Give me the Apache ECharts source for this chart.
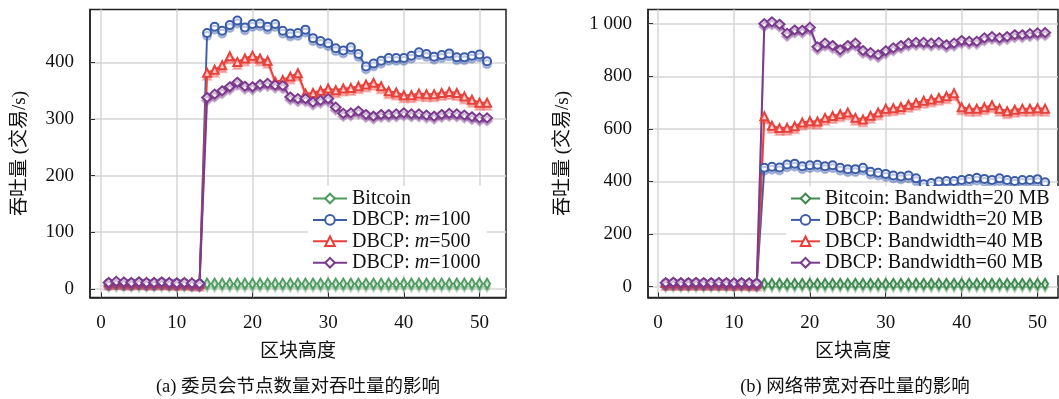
<!DOCTYPE html>
<html>
<head>
<meta charset="utf-8">
<script src="https://cdn.jsdelivr.net/npm/echarts@6/dist/echarts.min.js"></script>
<style>
  html, body { margin: 0; padding: 0; background: #fff; }
  #chart { width: 1059px; height: 399px; }
</style>
</head>
<body>
<div id="chart"></div>
<script>
// Block heights on the x axis
const blockHeight = [1,2,3,4,5,6,7,8,9,10,11,12,13,14,15,16,17,18,19,20,21,22,23,24,25,26,
  27,28,29,30,31,32,33,34,35,36,37,38,39,40,41,42,43,44,45,46,47,48,49,50,51];

// Tick labels
const xTicks = [0, 10, 20, 30, 40, 50];
const yTicksA = [0, 100, 200, 300, 400];
const yTicksB = [0, 200, 400, 600, 800, 1000];

// (a) committee size — throughput (tx/s)
const bitcoinA = [9,9,9,9,9,9,9,9,9,9,9,9,9,9,9,9,9,9,9,9,9,9,9,9,9,9,
  9,9,9,9,9,9,9,9,9,9,9,9,9,9,9,9,9,9,9,9,9,9,9,9,9];
const dbcpM100 = [10,11,10,10,11,10,10,11,10,10,10,9,9,
  452,463,456,466,474,462,468,469,463,468,456,451,452,458,443,438,434,425,421,427,415,
  393,398,403,408,408,408,412,418,415,410,413,416,409,409,412,414,402];
const dbcpM500 = [11,12,11,11,12,11,11,11,11,10,11,10,9,
  382,387,395,411,401,407,412,407,403,366,369,375,381,345,346,350,354,351,354,355,358,
  361,364,358,349,347,342,342,345,344,344,346,348,346,340,334,329,329];
const dbcpM1000 = [11,13,12,11,12,11,11,12,11,10,11,10,9,
  338,344,350,357,365,358,357,361,363,360,359,339,336,336,330,333,336,321,310,311,314,
  308,305,308,308,309,311,309,309,307,305,308,310,309,307,304,302,302];

// (b) network bandwidth — throughput (tx/s)
const bitcoinB = [11,11,11,11,11,11,11,11,11,11,11,11,11,11,11,11,11,11,11,11,11,11,11,11,11,11,
  11,11,11,11,11,11,11,11,11,11,11,11,11,11,11,11,11,11,11,11,11,11,11,11,11];
const dbcpBw20 = [13,14,13,13,14,13,13,13,13,12,13,12,12,
  452,456,453,465,468,458,462,464,458,462,452,447,447,452,437,433,429,423,419,423,412,
  390,394,400,402,402,406,410,414,410,406,412,406,402,406,406,409,397];
const dbcpBw40 = [14,15,14,14,15,14,14,14,14,13,14,13,12,
  648,612,603,604,610,624,629,628,642,649,656,662,642,636,650,662,677,679,683,692,699,
  707,712,718,724,736,682,677,677,682,690,677,667,673,677,677,679,677];
const dbcpBw60 = [15,17,15,15,16,15,15,16,15,14,15,14,13,
  1000,1007,998,963,976,975,986,912,926,917,901,917,926,898,890,882,897,908,917,926,929,
  929,926,929,920,926,936,933,933,946,951,946,951,958,958,962,965,966];

const SERIF = '"Liberation Serif", "Times New Roman", serif';
const MIXED = '"Liberation Serif", "Noto Sans CJK SC", serif';
const INK = '#111';

const C_GREEN_A = '#4f9b60';
const C_GREEN_B = '#3f8a4e';
const C_BLUE = '#3c5ca8';
const C_RED = '#e8413b';
const C_PURPLE = '#7b3a8d';

function fade(hex, a) {
  const n = parseInt(hex.slice(1), 16);
  return 'rgba(' + (n >> 16 & 255) + ',' + (n >> 8 & 255) + ',' + (n & 255) + ',' + a + ')';
}

function lineSeries(name, values, color, symbol, size, grid, width) {
  return {
    type: 'line',
    name: name,
    xAxisIndex: grid,
    yAxisIndex: grid,
    data: blockHeight.map((x, i) => [x, values[i]]),
    symbol: symbol,
    symbolSize: size,
    showAllSymbol: true,
    color: color,
    lineStyle: { color: color, width: width, shadowColor: fade(color, 0.3), shadowOffsetY: 3 },
    itemStyle: { color: color, borderColor: fade(color, 0.85), borderWidth: 1,
      shadowColor: fade(color, 0.35), shadowOffsetY: 3 },
    emphasis: { disabled: true },
    animation: false
  };
}

function xAxis(grid, min, max) {
  return {
    gridIndex: grid, type: 'value', min: min, max: max,
    name: '区块高度', nameLocation: 'middle', nameGap: 45,
    nameTextStyle: { fontFamily: MIXED, fontSize: 19, color: INK },
    axisLine: { onZero: false, lineStyle: { color: '#222', width: 1.5 } },
    axisTick: { customValues: xTicks, inside: true, length: 5, lineStyle: { color: '#333' } },
    axisLabel: { customValues: xTicks, fontFamily: SERIF, fontSize: 19, color: INK, margin: 16 },
    splitLine: { show: true, lineStyle: { color: '#d6d6d6', width: 1.5 } }
  };
}

function yAxis(grid, min, max, ticks, gap) {
  return {
    gridIndex: grid, type: 'value', min: min, max: max,
    name: '吞吐量 (交易/s)', nameLocation: 'middle', nameGap: gap,
    nameTextStyle: { fontFamily: MIXED, fontSize: 19, color: INK },
    axisLine: { show: true, onZero: false, lineStyle: { color: '#222', width: 1.5 } },
    axisTick: { customValues: ticks, inside: true, length: 5, lineStyle: { color: '#333' } },
    axisLabel: { customValues: ticks, fontFamily: SERIF, fontSize: 19, color: INK, margin: 16,
      formatter: v => String(v).replace(/\B(?=(\d{3})+(?!\d))/g, ' ') },
    splitLine: { show: true, lineStyle: { color: '#d6d6d6', width: 1.5 } }
  };
}

const rich = {
  n: { fontFamily: SERIF, fontSize: 20, color: INK, lineHeight: 21 },
  i: { fontFamily: SERIF, fontSize: 20, color: INK, fontStyle: 'italic', lineHeight: 21 }
};

function legendLabel(name) {
  const parts = name.split('m=');
  if (parts.length === 2) return '{n|' + parts[0] + '}{i|m}{n|=' + parts[1] + '}';
  return '{n|' + name + '}';
}

const namesA = ['Bitcoin', 'DBCP: m=100', 'DBCP: m=500', 'DBCP: m=1000'];
const namesB = ['Bitcoin: Bandwidth=20 MB', 'DBCP: Bandwidth=20 MB', 'DBCP: Bandwidth=40 MB', 'DBCP: Bandwidth=60 MB'];

const option = {
  backgroundColor: '#fff',
  animation: false,
  grid: [
    { left: 90, top: 9.5, width: 416, height: 288, show: true, borderColor: '#222', borderWidth: 1.5, containLabel: false },
    { left: 648, top: 9.5, width: 410, height: 288, show: true, borderColor: '#222', borderWidth: 1.5, containLabel: false }
  ],
  xAxis: [xAxis(0, -1.47, 53.5), xAxis(1, -1.33, 52.7)],
  yAxis: [yAxis(0, -15.4, 493.6, yTicksA, 60), yAxis(1, -41, 1054, yTicksB, 75)],
  legend: [
    {
      data: namesA, orient: 'vertical', left: 308, top: 186,
      itemWidth: 34, itemHeight: 12, itemGap: 0.4,
      padding: [2, 6, 2, 4], backgroundColor: '#fff',
      textStyle: { rich: rich, lineHeight: 21 }, formatter: legendLabel,
      selectedMode: false
    },
    {
      data: namesB, orient: 'vertical', left: 786, top: 186,
      itemWidth: 29, itemHeight: 12, itemGap: 0.4,
      padding: [2, 20, 2, 4], backgroundColor: '#fff',
      textStyle: { rich: rich, lineHeight: 21 }, formatter: legendLabel,
      selectedMode: false
    }
  ],
  graphic: [
    { type: 'text', x: 298, y: 387, style: { text: '(a) 委员会节点数量对吞吐量的影响', align: 'center',
      verticalAlign: 'middle', font: '18.5px ' + MIXED, fill: INK } },
    { type: 'text', x: 855, y: 387, style: { text: '(b) 网络带宽对吞吐量的影响', align: 'center',
      verticalAlign: 'middle', font: '18.5px ' + MIXED, fill: INK } }
  ],
  series: [
    lineSeries(namesA[0], bitcoinA, C_GREEN_A, 'emptyDiamond', [6, 10], 0, 1.6),
    lineSeries(namesA[1], dbcpM100, C_BLUE, 'emptyCircle', 8, 0, 1.8),
    lineSeries(namesA[2], dbcpM500, C_RED, 'emptyTriangle', 8, 0, 2),
    lineSeries(namesA[3], dbcpM1000, C_PURPLE, 'emptyDiamond', [10, 9], 0, 2),
    lineSeries(namesB[0], bitcoinB, C_GREEN_B, 'emptyDiamond', [6, 10], 1, 1.6),
    lineSeries(namesB[1], dbcpBw20, C_BLUE, 'emptyCircle', 8, 1, 1.8),
    lineSeries(namesB[2], dbcpBw40, C_RED, 'emptyTriangle', 8, 1, 2),
    lineSeries(namesB[3], dbcpBw60, C_PURPLE, 'emptyDiamond', [10, 9], 1, 2)
  ]
};

const chart = echarts.init(document.getElementById('chart'), null, { renderer: 'canvas' });
chart.setOption(option);
</script>
</body>
</html>
